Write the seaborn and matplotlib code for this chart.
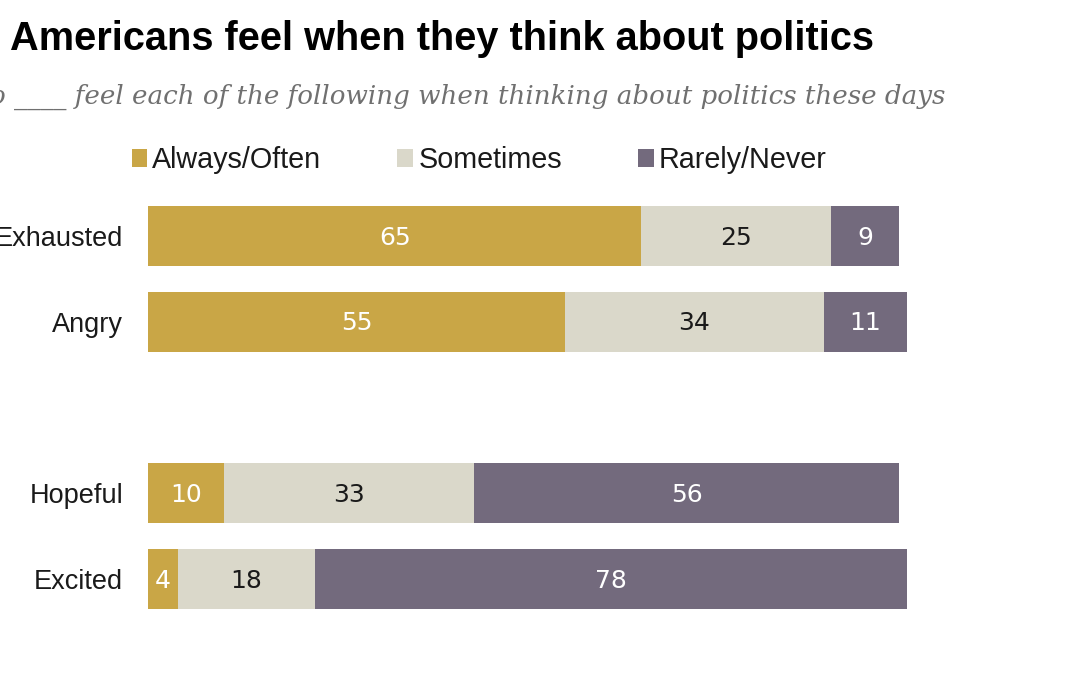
import pandas as pd
import seaborn as sns
import matplotlib.pyplot as plt

categories = ["Exhausted", "Angry", "Hopeful", "Excited"]
always = [65, 55, 10, 4]
sometimes = [25, 34, 33, 18]
rarely = [9, 11, 56, 78]
series_names = ["Always/Often", "Sometimes", "Rarely/Never"]

title = "Americans feel when they think about politics"
subtitle = "o ____ feel each of the following when thinking about politics these days"

# blank slot between the two groups
order = ["Exhausted", "Angry", "", "Hopeful", "Excited"]

df = pd.DataFrame({"emotion": categories, "always": always,
                   "sometimes": sometimes, "rarely": rarely})
df["cum1"] = df["always"]
df["cum2"] = df["always"] + df["sometimes"]
df["cum3"] = df["cum2"] + df["rarely"]

colors = ["#C9A646", "#DAD8CA", "#736A7D"]
txt_colors = ["white", "#1a1a1a", "white"]

sns.set_style("white")
fig = plt.figure(figsize=(10.8, 6.75), dpi=100)
ax = fig.add_axes([148/1080, 53/675, 759/1080, 429/675])

# stacked bars drawn back to front
for col, c, name in zip(["cum3", "cum2", "cum1"], colors[::-1], series_names[::-1]):
    sns.barplot(data=df, x=col, y="emotion", order=order, orient="h",
                color=c, width=0.70, linewidth=0, saturation=1,
                label=name, ax=ax)

# value labels centered in each segment
for i, row in df.iterrows():
    y = order.index(row["emotion"])
    lefts = [0, row["cum1"], row["cum2"]]
    vals = [row["always"], row["sometimes"], row["rarely"]]
    for left, v, tc in zip(lefts, vals, txt_colors):
        ax.annotate(str(v), (left + v/2, y), xytext=(0, -6.3),
                    textcoords="offset points", ha="center", va="baseline",
                    fontsize=18, color=tc, family="DejaVu Sans")

ax.set_xlim(0, 100)
ax.set_ylim(4.5, -0.5)
ax.set_xlabel("")
ax.set_ylabel("")
ax.set_xticks([])
ax.tick_params(axis="y", length=0, pad=17.8)
for lab in ax.get_yticklabels():
    lab.set_fontsize(19.5)
    lab.set_family("Liberation Sans")
    lab.set_color("#1a1a1a")
sns.despine(ax=ax, left=True, bottom=True)

handles, labels = ax.get_legend_handles_labels()
hmap = dict(zip(labels, handles))
ax.legend([hmap[n] for n in series_names], series_names, ncol=3,
          loc="center left", bbox_to_anchor=(131.5/1080, 1 - 160/675),
          bbox_transform=fig.transFigure, frameon=False,
          prop={"family": "Liberation Sans", "size": 20.7},
          labelcolor="#1a1a1a",
          handlelength=0.556, handleheight=0.556, handletextpad=0.17,
          columnspacing=2.64, borderaxespad=0, borderpad=0)

fig.text(10/1080, 1 - 50/675, title, ha="left", va="baseline",
         fontsize=28.6, fontweight="bold", family="Liberation Sans", color="black")
fig.text(945/1080, 1 - 104/675, subtitle, ha="right", va="baseline",
         fontsize=18.85, style="italic", family="DejaVu Serif", color="#707070")

fig.savefig("out.png", dpi=100)
